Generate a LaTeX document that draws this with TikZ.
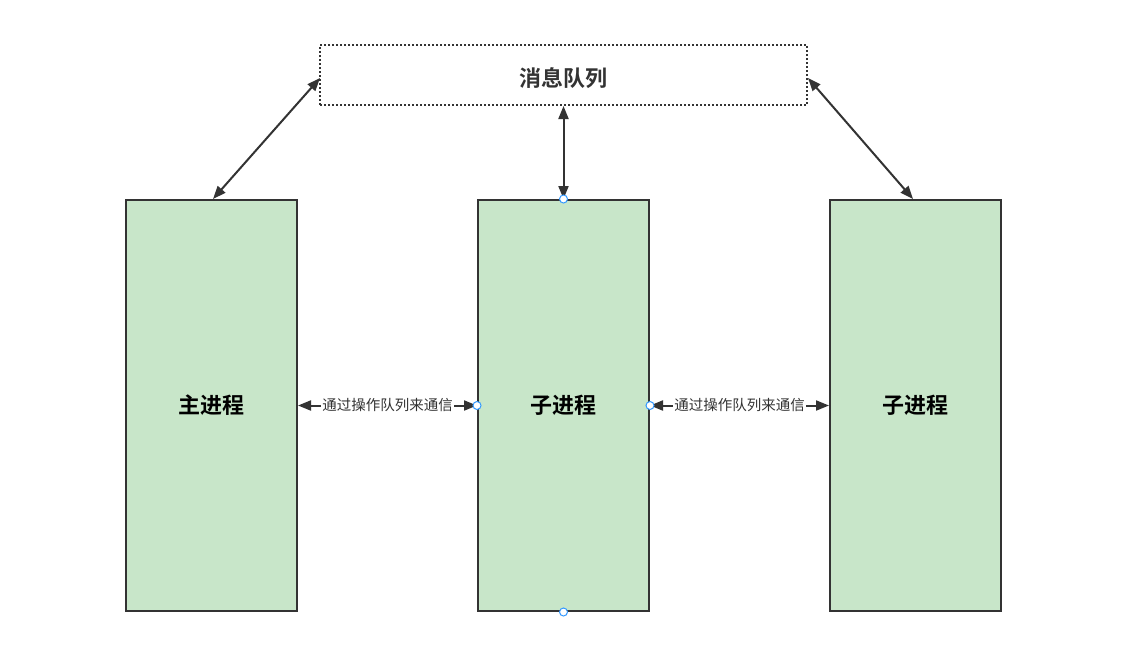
\documentclass[tikz,border=0pt]{standalone}
\usepackage{fontspec}
\newfontfamily\cjk{Noto Sans CJK SC}
\newfontfamily\cjkb{Noto Sans CJK SC Bold}
\usetikzlibrary{arrows.meta}
\definecolor{procfill}{HTML}{C8E6C9}
\definecolor{edge}{HTML}{333333}
\definecolor{handle}{HTML}{3399FF}
\begin{document}
\begin{tikzpicture}[x=1pt,y=-1pt,
  proc/.style={draw=edge,line width=2pt,fill=procfill,minimum width=171pt,minimum height=411pt,inner sep=0pt,font=\cjkb\fontsize{22}{26}\selectfont},
  queue/.style={draw=edge,line width=2pt,dotted,minimum width=487pt,minimum height=60pt,inner sep=0pt,font=\cjkb\fontsize{22}{26}\selectfont,text=edge},
  link/.style={draw=edge,line width=2pt,{Triangle[length=13pt,width=10pt]}-{Triangle[length=13pt,width=10pt]}},
  lbl/.style={fill=white,inner sep=1pt,font=\cjk\fontsize{14.5}{17}\selectfont,text=edge},
  hnd/.style={circle,draw=handle,fill=white,line width=1pt,minimum size=8pt,inner sep=0pt}]
\useasboundingbox (0,0) rectangle (1142,656);
\node[queue] (q) at (563.5,75) {};
\node[font=\cjkb\fontsize{22}{26}\selectfont,text=edge] (qt) at (563.5,78) {消息队列};
\node[proc] (m) at (211.5,405.5) {主进程};
\node[proc] (c1) at (563.5,405.5) {子进程};
\node[proc] (c2) at (915.5,405.5) {子进程};
\coordinate (qL) at (320,78);
\coordinate (qR) at (808,78);
\coordinate (mT) at (213,199);
\coordinate (c2T) at (913,199);
\draw[link] (qL) -- (mT);
\draw[link] (qR) -- (c2T);
\draw[link] (q.south) -- (c1.north);
\draw[link] (m.east) -- node[lbl] {通过操作队列来通信} (c1.west);
\draw[link] (c1.east) -- node[lbl] {通过操作队列来通信} (c2.west);
\node[hnd] (h1) at (c1.north) {};
\node[hnd] (h2) at (c1.south) {};
\node[hnd] (h3) at (c1.west) {};
\node[hnd] (h4) at (c1.east) {};
\end{tikzpicture}
\end{document}
